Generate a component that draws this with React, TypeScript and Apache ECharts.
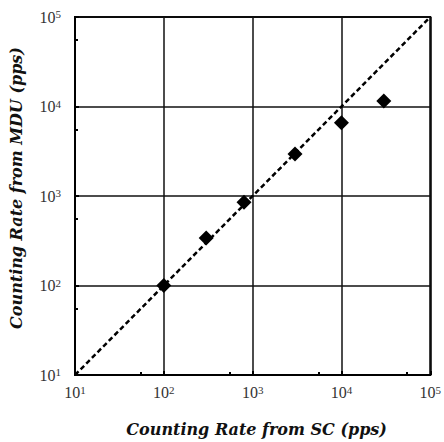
import React, { useEffect, useRef } from "react";
import * as echarts from "echarts";

// Counting rate measured with the single-channel reference (SC) vs. the MDU
const scRate = [100, 300, 800, 3000, 10000, 30000];
const mduRate = [100, 340, 850, 2950, 6600, 11500];
// Ideal agreement line y = x across the plotted range
const idealLine = [
  [10, 10],
  [100000, 100000],
];
const axisMin = 10;
const axisMax = 100000;

const serif = "'Liberation Serif', 'DejaVu Serif', serif";
const wideSerif = "'DejaVu Serif', 'Liberation Serif', serif";

const powerLabel = (v: number) => {
  const e = Math.round(Math.log10(v));
  return `{b|10}{s|${e}}`;
};

const labelRich = {
  b: { fontFamily: serif, fontSize: 16, color: "#333" },
  s: { fontFamily: serif, fontSize: 11, color: "#333", verticalAlign: "top" as const, padding: [0, 0, 6, 0] },
};

const nameStyle = {
  fontFamily: wideSerif,
  fontSize: 16,
  fontWeight: "bold" as const,
  fontStyle: "italic" as const,
  color: "#111",
};

export default function App() {
  const ref = useRef<HTMLDivElement>(null);

  useEffect(() => {
    if (!ref.current) return;
    const chart = echarts.init(ref.current, null, { renderer: "svg" });
    const axisCommon = {
      type: "log" as const,
      logBase: 10,
      min: axisMin,
      max: axisMax,
      nameLocation: "middle" as const,
      axisLine: { show: true, lineStyle: { color: "#000", width: 2 } },
      axisTick: { show: true, inside: true, length: 4, lineStyle: { color: "#000", width: 2 } },
      minorTick: { show: true, splitNumber: 2, length: 3, lineStyle: { color: "#000", width: 2 } },
      splitLine: { show: true, lineStyle: { color: "#111", width: 1.5 } },
      axisLabel: { formatter: powerLabel, rich: labelRich },
    };
    chart.setOption({
      animation: false,
      backgroundColor: "#fff",
      grid: {
        left: 72,
        top: 17,
        right: 11,
        bottom: 65,
        show: true,
        borderColor: "#000",
        borderWidth: 2,
        containLabel: false,
      },
      xAxis: {
        ...axisCommon,
        name: "Counting Rate from SC (pps)",
        nameGap: 46,
        nameTextStyle: { ...nameStyle, padding: [0, 0, 0, 8] },
        axisLabel: { ...axisCommon.axisLabel, margin: 9 },
      },
      yAxis: {
        ...axisCommon,
        name: "Counting Rate from MDU (pps)",
        nameGap: 51,
        nameTextStyle: { ...nameStyle, padding: [0, 0, 0, 16] },
        axisLabel: { ...axisCommon.axisLabel, margin: 14 },
      },
      series: [
        {
          type: "line",
          data: idealLine,
          symbol: "none",
          lineStyle: { color: "#000", width: 2.5, type: [5, 3] },
          z: 3,
        },
        {
          type: "scatter",
          data: scRate.map((x, i) => [x, mduRate[i]]),
          symbol: "diamond",
          symbolSize: 15,
          itemStyle: { color: "#000", opacity: 1 },
          z: 4,
        },
      ],
    });
    return () => chart.dispose();
  }, []);

  return (
    <div
      ref={ref}
      style={{ position: "fixed", left: 0, top: 0, width: 444, height: 442 }}
    />
  );
}
